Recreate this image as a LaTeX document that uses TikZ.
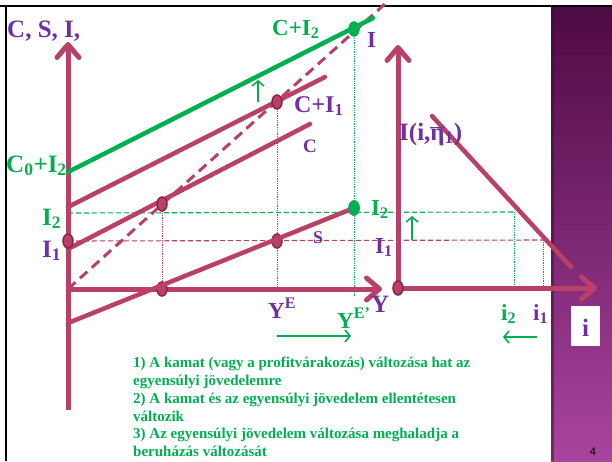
\documentclass[tikz,border=0pt]{standalone}
\usepackage{fontspec}
\setmainfont{Liberation Serif}
\setsansfont{Liberation Sans}
\usetikzlibrary{arrows.meta,shapes.geometric,positioning}

\definecolor{framboise}{HTML}{B94168}
\definecolor{violet}{HTML}{7030A0}
\definecolor{vert}{HTML}{00B050}
\definecolor{bordpoint}{HTML}{8A2448}
\definecolor{prunehaut}{HTML}{4E0A44}
\definecolor{prunebas}{HTML}{A9449F}

\tikzset{
  axe/.style={line width=5pt, framboise, -{Straight Barb[round, length=13pt, width=22pt, line width=5pt]}},
  courbe/.style={line width=4.5pt, framboise, line cap=round},
  pointrose/.style={ellipse, draw=bordpoint, fill=framboise, line width=1.5pt,
    minimum width=10pt, minimum height=14pt, inner sep=0pt},
  pointvert/.style={pointrose, draw=vert, fill=vert},
  repere/.style={line width=0.8pt, densely dotted},
  etiq/.style={font=\bfseries\fontsize{23}{23}\selectfont, inner sep=0pt, anchor=base west},
  fleche/.style={line width=1.6pt, vert, -{Straight Barb[length=5pt, width=12pt]}}
}

\begin{document}
\begin{tikzpicture}[x=1pt, y=-1pt]
  \useasboundingbox (0,0) rectangle (612,461);
  % Fond et cadre
  \fill[white] (0,0) rectangle (612,461);
  \shade[top color=prunehaut, bottom color=prunebas] (551,7) rectangle (612,461);
  \fill[prunehaut!80!black, opacity=0.5] (551,7) rectangle (554,461);
  \draw[line width=2pt] (0,6) -- (612,6);
  \draw[line width=2.5pt] (6,6) -- (6,461);
  \fill[white] (571,306) rectangle (600,346);
  \node[etiq, violet, font=\bfseries\fontsize{25}{25}\selectfont, anchor=base] (ii) at (585.5,336) {i};
  \node[font=\sffamily\fontsize{11}{11}\selectfont, anchor=base] (page) at (593,455) {4};

  % Points du repere gauche
  \coordinate (O) at (68,289);
  \coordinate (ytop) at (68,42);
  \coordinate (ybas) at (68,410);
  \coordinate (xfin) at (382,289);
  \coordinate (diag) at (386,3);

  % Lignes de repere
  \draw[repere, framboise] (162,204) -- (162,289);
  \draw[repere, framboise] (277,102) -- (277,289);
  \draw[repere, vert] (354,29) -- (354,296);
  \draw[line width=1.1pt, vert, dash pattern=on 5pt off 3pt] (68,213) -- (514,212);
  \draw[line width=1.1pt, framboise, dash pattern=on 5pt off 3pt] (68,241) -- (543,240);
  \draw[repere, vert] (514,212) -- (514,289);
  \draw[repere, framboise] (543,240) -- (543,289);

  % Axes
  \draw[axe] (ybas) -- (ytop);
  \draw[axe] (O) -- (xfin);

  % Droite a 45 degres
  \draw[line width=3pt, framboise, dash pattern=on 10pt off 6pt] (O) -- (diag);

  % Fonctions
  \coordinate (ci2a) at (68,172);
  \coordinate (ci2b) at (373,18);
  \coordinate (ci1a) at (68,207);
  \coordinate (ci1b) at (325,77);
  \coordinate (ca) at (68,249);
  \coordinate (cb) at (310,124);
  \coordinate (sa) at (68,323);
  \draw[line width=4.5pt, vert, line cap=round] (ci2a) -- (ci2b);
  \draw[courbe] (ci1a) -- (ci1b);
  \draw[courbe] (ca) -- (cb);

  \node[pointrose] (e1) at (162,204) {};
  \node[pointrose] (e2) at (277,102) {};
  \node[pointrose] (i1) at (68,241) {};
  \node[pointrose] (s1) at (162,289) {};
  \node[pointrose] (s2) at (277,241) {};
  \node[pointvert] (e3) at (354,29) {};
  \node[pointvert] (i2) at (354,208) {};
  \draw[courbe] (sa) -- (i2.center);
  \node[pointvert] at (i2) {};

  % Fleches vertes
  \coordinate (fa) at (258,102);
  \coordinate (fb) at (258,80);
  \draw[fleche] (fa) -- (fb);
  \coordinate (fc) at (277,336);
  \coordinate (fd) at (351,336);
  \draw[fleche] (fc) -- (fd);

  % Etiquettes gauche
  \node[etiq, violet, font=\bfseries\fontsize{25}{25}\selectfont] (titre) at (7,37) {C, S, I,};
  \node[etiq, vert, font=\bfseries\fontsize{25}{25}\selectfont] (c0i2) at (6,172) {C\textsubscript{0}+I\textsubscript{2}};
  \node[etiq, vert] (lci2) at (272,35) {C+I\textsubscript{2}};
  \node[etiq, violet] (lI) at (367,47) {I};
  \node[etiq, violet, font=\bfseries\fontsize{24}{24}\selectfont] (lci1) at (294,112) {C+I\textsubscript{1}};
  \node[etiq, violet, font=\bfseries\fontsize{19}{19}\selectfont] (lc) at (303,152) {C};
  \node[etiq, violet, font=\bfseries\fontsize{18}{18}\selectfont] (ls) at (313,243) {S};
  \node[etiq, vert, font=\bfseries\fontsize{25}{25}\selectfont] (li2) at (42,225) {I\textsubscript{2}};
  \node[etiq, violet, font=\bfseries\fontsize{25}{25}\selectfont] (li1) at (42,257) {I\textsubscript{1}};
  \node[etiq, violet] (lye) at (268,318) {Y\textsuperscript{E}};
  \node[etiq, vert] (lye2) at (337,328) {Y\textsuperscript{E'}};
  \node[etiq, violet, font=\bfseries\fontsize{25}{25}\selectfont] (ly) at (371,312) {Y};

  % Repere droit
  \coordinate (O2) at (398,288);
  \coordinate (itop) at (398,45);
  \coordinate (ifin) at (597,288);
  \draw[axe] (O2) -- (itop);
  \draw[axe] (O2) -- (ifin);
  \node[pointrose] (o2) at (O2) {};
  \coordinate (inva) at (432,116);
  \coordinate (invb) at (571,267);
  \draw[courbe] (inva) -- (invb);
  \coordinate (fe) at (412,240);
  \coordinate (ff) at (412,216);
  \draw[fleche] (fe) -- (ff);
  \coordinate (fg) at (537,337);
  \coordinate (fh) at (503,337);
  \draw[fleche] (fg) -- (fh);

  % Etiquettes droite
  \node[etiq, violet, font=\bfseries\fontsize{25}{25}\selectfont] (linv) at (399,140) {I(i,$\overline{\hbox{η}}$\textsubscript{1})};
  \node[etiq, vert] (ri2) at (371,215) {I\textsubscript{2}};
  \node[etiq, violet] (ri1) at (375,253) {I\textsubscript{1}};
  \node[etiq, vert] (lii2) at (501,320) {i\textsubscript{2}};
  \node[etiq, violet] (lii1) at (533,320) {i\textsubscript{1}};

  % Texte
  \node[vert, font=\bfseries\fontsize{15}{17.8}\selectfont, align=left, anchor=north west, inner sep=0pt] (texte) at (133,357)
    {1) A kamat (vagy a profitvárakozás) változása hat az\\
     egyensúlyi jövedelemre\\
     2) A kamat és az egyensúlyi jövedelem ellentétesen\\
     változik\\
     3) Az egyensúlyi jövedelem változása meghaladja a\\
     beruházás változását};
\end{tikzpicture}
\end{document}
